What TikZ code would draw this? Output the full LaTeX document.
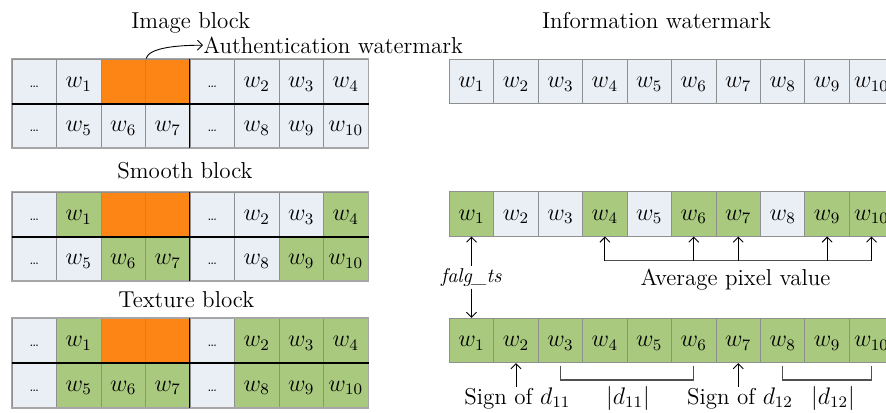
\documentclass[tikz,border=0pt]{standalone}
\usetikzlibrary{arrows.meta}
\definecolor{cL}{HTML}{EAEEF5}
\definecolor{cG}{HTML}{A9C97F}
\definecolor{cO}{HTML}{FD8515}
\definecolor{cE}{HTML}{8F8F8F}
\definecolor{cF}{HTML}{A6A6A6}
\definecolor{cK}{HTML}{505050}
\newcommand\dt{{\fontsize{6.5}{7}\selectfont\ldots}}
\newcommand\mkgrid[4]{%
  \foreach \c/\t [count=\i] in {#3}
    \node[lcell, fill=c\c] (#1-1-\i) at ({44.5*\i-10.25},{#2+22.2}) {\t};
  \foreach \c/\t [count=\i] in {#4}
    \node[lcell, fill=c\c] (#1-2-\i) at ({44.5*\i-10.25},{#2+66.6}) {\t};
  \draw[cF, line width=0.9pt] (#1-1-1.north west) rectangle (#1-2-8.south east);
  \draw[line width=0.8pt] (#1-1-5.north west) -- (#1-2-5.south west);
  \draw[line width=0.8pt] (#1-1-1.south west) -- (#1-1-8.south east);
}
\newcommand\mkrow[3]{%
  \foreach \c [count=\i] in {#3}
    \node[rcell, fill=c\c] (#1-\i) at ({44.45*\i+427.07},#2) {$w_{\i}$};
}
\begin{document}
\begin{tikzpicture}[x=0.5pt,y=-0.5pt,
  cellbase/.style={draw=cE, line width=0.5pt, minimum height=22.2pt, inner sep=0pt,
    text height=8pt, text depth=1.8pt, font=\fontsize{12}{14}\selectfont},
  lcell/.style={cellbase, minimum width=22.25pt},
  rcell/.style={cellbase, minimum width=22.22pt},
  ttl/.style={font=\fontsize{11.5}{14}\selectfont, anchor=base, inner sep=0pt},
  arr/.style={-{Straight Barb[length=2.5pt,width=5pt]}, line width=0.45pt},
  brk/.style={draw=cK, line width=0.6pt}]
\useasboundingbox (0,0) rectangle (886,412);

% left grids
\mkgrid{A}{59}{L/\dt, L/$w_1$, O/{}, O/{}, L/\dt, L/$w_2$, L/$w_3$, L/$w_4$}
  {L/\dt, L/$w_5$, L/$w_6$, L/$w_7$, L/\dt, L/$w_8$, L/$w_9$, L/$w_{10}$}
\mkgrid{B}{192}{L/\dt, G/$w_1$, O/{}, O/{}, L/\dt, L/$w_2$, L/$w_3$, G/$w_4$}
  {L/\dt, L/$w_5$, G/$w_6$, G/$w_7$, L/\dt, L/$w_8$, G/$w_9$, G/$w_{10}$}
\mkgrid{C}{318.3}{L/\dt, G/$w_1$, O/{}, O/{}, L/\dt, G/$w_2$, G/$w_3$, G/$w_4$}
  {L/\dt, G/$w_5$, G/$w_6$, G/$w_7$, L/\dt, G/$w_8$, G/$w_9$, G/$w_{10}$}

% right rows
\mkrow{R1}{81.5}{L,L,L,L,L,L,L,L,L,L}
\mkrow{R2}{213.9}{G,L,L,G,L,G,G,L,G,G}
\mkrow{R3}{340.5}{G,G,G,G,G,G,G,G,G,G}

% titles
\node[ttl] (tA) at (190.8,28.3) {Image block};
\node[ttl] (tB) at (185,178.3) {Smooth block};
\node[ttl] (tC) at (186.3,307.3) {Texture block};
\node[ttl] (tI) at (656.5,28.3) {Information watermark};
\node[ttl, anchor=base west] (tAu) at (203,53.3) {Authentication watermark};
\draw[arr] (A-1-3.north east) .. controls +(3,-10) and +(-30,0) .. (tAu.west);

% falg_ts
\node[font=\fontsize{10}{12}\selectfont\itshape, anchor=base, inner sep=1pt] (flg) at (471.3,282) {falg\_ts};
\draw[arr] (flg.north -| R2-1.south) -- (R2-1.south);
\draw[arr] (flg.south -| R3-1.north) -- (R3-1.north);

% average pixel value
\coordinate (avgL) at (0,260.7);
\node[ttl] (avg) at (735.5,285.5) {Average pixel value};
\draw[brk] (R2-4.south |- avgL) -- (R2-10.south |- avgL);
\foreach \i in {4,6,7,9,10}
  \draw[arr] (R2-\i.south |- avgL) -- (R2-\i.south);

% signs and magnitudes
\coordinate (bL) at (0,380);
\node[ttl] (s11) at (517.3,404) {Sign of $d_{11}$};
\node[ttl] (s12) at (740,404) {Sign of $d_{12}$};
\node[ttl] (m11) at (628,404) {$\bigl|d_{11}\bigr|$};
\node[ttl] (m12) at (833,404) {$\bigl|d_{12}\bigr|$};
\draw[arr] (s11.north -| R3-2.south) -- (R3-2.south);
\draw[arr] (s12.north -| R3-7.south) -- (R3-7.south);
\draw[brk] ([yshift=-1.2pt]R3-3.south) -- (R3-3.south |- bL) -- (R3-6.south |- bL) -- ([yshift=-1.2pt]R3-6.south);
\draw[brk] ([yshift=-1.2pt]R3-8.south) -- (R3-8.south |- bL) -- (R3-10.south |- bL) -- ([yshift=-1.2pt]R3-10.south);
\end{tikzpicture}
\end{document}
